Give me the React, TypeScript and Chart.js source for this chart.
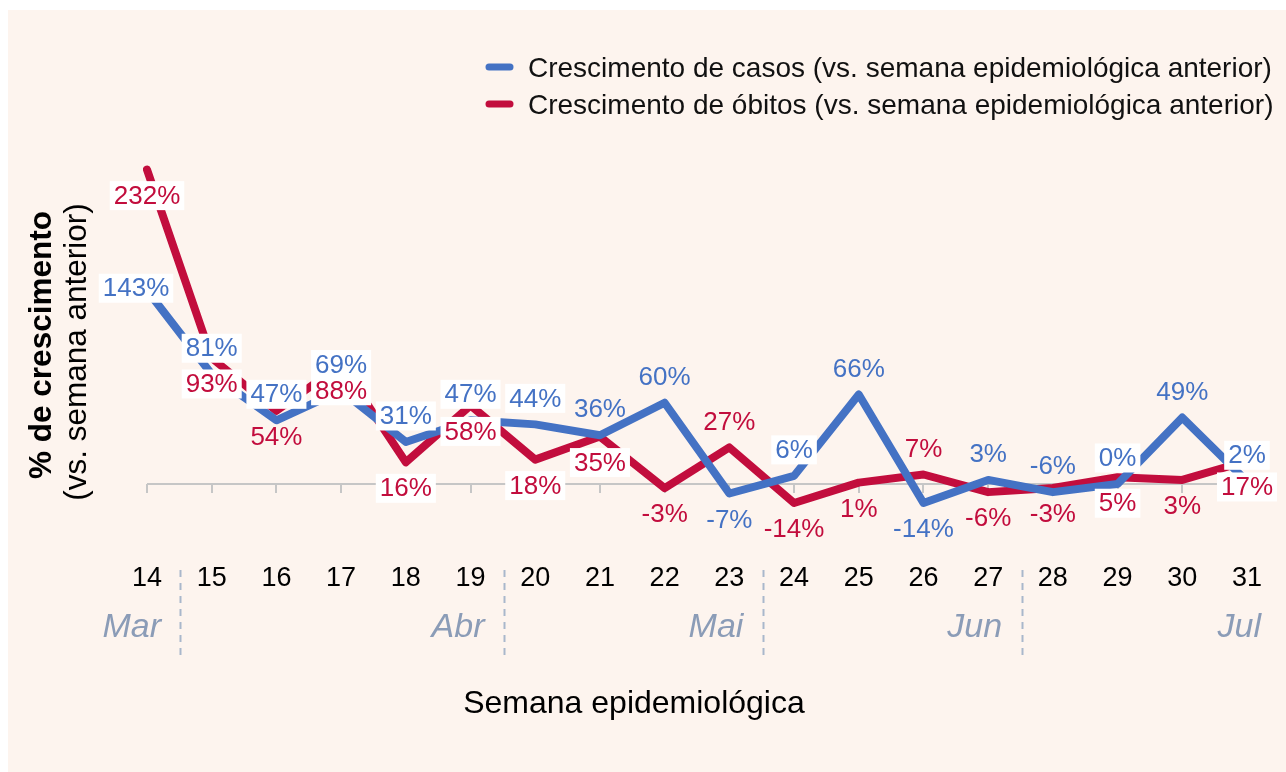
import React, { useEffect, useRef } from "react";
import { Chart, registerables } from "chart.js";

Chart.register(...registerables);

const weeks = ["14", "15", "16", "17", "18", "19", "20", "21", "22", "23", "24", "25", "26", "27", "28", "29", "30", "31"];
const casos = [143, 81, 47, 69, 31, 47, 44, 36, 60, -7, 6, 66, -14, 3, -6, 0, 49, 2];
const obitos = [232, 93, 54, 88, 16, 58, 18, 35, -3, 27, -14, 1, 7, -6, -3, 5, 3, 17];

const casosLabelPos = ["left", "above", "above", "above", "above", "above", "above", "above", "above", "below", "above", "above", "below", "above", "above", "above", "above", "above"];
const obitosLabelPos = ["below", "below", "below", "below", "below", "below", "below", "below", "below", "above", "below", "below", "above", "below", "below", "below", "below", "below"];
const casosLabelBox = [1, 1, 1, 1, 1, 1, 1, 0, 0, 0, 1, 0, 0, 0, 0, 1, 0, 1];
const obitosLabelBox = [1, 1, 0, 1, 1, 1, 1, 1, 0, 0, 0, 0, 0, 0, 0, 1, 0, 1];

const months = ["Mar", "Abr", "Mai", "Jun", "Jul"];
const monthLastWeek = ["14", "19", "23", "27", "31"];

const casosLabel = "Crescimento de casos (vs. semana epidemiológica anterior)";
const obitosLabel = "Crescimento de óbitos (vs. semana epidemiológica anterior)";
const xTitle = "Semana epidemiológica";
const yTitleMain = "% de crescimento";
const yTitleSub = "(vs. semana anterior)";

const BLUE = "#4472c4";
const RED = "#c20d3d";
const BG = "#fdf4ee";
const FONT = '"Liberation Sans", Arial, Helvetica, sans-serif';

const decorPlugin = {
  id: "decor",
  beforeDatasetsDraw(chart: any) {
    const { ctx, chartArea, scales } = chart;
    const x = scales.x;
    const y = scales.y;
    const y0 = y.getPixelForValue(0);
    ctx.save();
    ctx.strokeStyle = "#c6c6c6";
    ctx.lineWidth = 2;
    ctx.beginPath();
    ctx.moveTo(chartArea.left, y0);
    ctx.lineTo(chartArea.right + 26, y0);
    weeks.forEach((_w, i) => {
      const px = Math.round(x.getPixelForValue(i));
      ctx.moveTo(px, y0);
      ctx.lineTo(px, y0 + 9);
    });
    ctx.stroke();
    ctx.restore();
  },
  afterDatasetsDraw(chart: any) {
    const { ctx, scales } = chart;
    const x = scales.x;
    const y = scales.y;
    const series = [
      { values: casos, pos: casosLabelPos, box: casosLabelBox, color: BLUE },
      { values: obitos, pos: obitosLabelPos, box: obitosLabelBox, color: RED },
    ];
    ctx.save();
    ctx.font = `26px ${FONT}`;
    ctx.textAlign = "center";
    ctx.textBaseline = "middle";
    series.forEach((s) => {
      s.values.forEach((v, i) => {
        const px = x.getPixelForValue(i);
        const py = y.getPixelForValue(v);
        let cx = px;
        let cy = py;
        const p = s.pos[i];
        if (p === "above") cy -= 26;
        else if (p === "below") cy += 26;
        else if (p === "left") {
          cx -= 11;
          cy -= 2;
        }
        const text = `${v}%`;
        if (s.box[i]) {
          const w = ctx.measureText(text).width + 8;
          const h = 29;
          ctx.fillStyle = "#ffffff";
          ctx.fillRect(cx - w / 2, cy - h / 2, w, h);
        }
        ctx.fillStyle = s.color;
        ctx.fillText(text, cx, cy + 1);
      });
    });
    ctx.restore();
  },
  afterDraw(chart: any) {
    const { ctx, scales } = chart;
    const x = scales.x;
    ctx.save();
    // month dividers
    ctx.strokeStyle = "#a9b7cb";
    ctx.lineWidth = 2;
    ctx.setLineDash([7, 6]);
    monthLastWeek.forEach((w, k) => {
      if (k === monthLastWeek.length - 1) return;
      const i = weeks.indexOf(w);
      const px = Math.round((x.getPixelForValue(i) + x.getPixelForValue(i + 1)) / 2) + 1.5;
      ctx.beginPath();
      ctx.moveTo(px, 560);
      ctx.lineTo(px, 649);
      ctx.stroke();
    });
    ctx.setLineDash([]);
    // month labels
    ctx.font = `italic 34px ${FONT}`;
    ctx.fillStyle = "#8b9cb7";
    ctx.textAlign = "right";
    ctx.textBaseline = "middle";
    months.forEach((m, k) => {
      const i = weeks.indexOf(monthLastWeek[k]);
      ctx.fillText(m, x.getPixelForValue(i) + 14, 618);
    });
    // x title
    ctx.font = `32px ${FONT}`;
    ctx.fillStyle = "#000000";
    ctx.textAlign = "center";
    ctx.fillText(xTitle, chart.width / 2 - 13, 694);
    // y title
    ctx.save();
    ctx.translate(34, 335);
    ctx.rotate(-Math.PI / 2);
    ctx.font = `bold 31.5px ${FONT}`;
    ctx.fillText(yTitleMain, 0, 0);
    ctx.restore();
    ctx.save();
    ctx.translate(69, 342);
    ctx.rotate(-Math.PI / 2);
    ctx.font = `31.5px ${FONT}`;
    ctx.fillText(yTitleSub, 0, 0);
    ctx.restore();
    // legend
    chart.data.datasets.forEach((ds: any, k: number) => {
      const ly = 57 + k * 37;
      ctx.strokeStyle = ds.borderColor;
      ctx.lineWidth = 7;
      ctx.lineCap = "round";
      ctx.beginPath();
      ctx.moveTo(481, ly);
      ctx.lineTo(502, ly);
      ctx.stroke();
      ctx.font = `28px ${FONT}`;
      ctx.fillStyle = "#111111";
      ctx.textAlign = "left";
      ctx.fillText(ds.label, 520, ly + 2);
    });
    ctx.restore();
  },
};

export default function App() {
  const ref = useRef<HTMLCanvasElement | null>(null);
  useEffect(() => {
    if (!ref.current) return;
    const chart = new Chart(ref.current, {
      type: "line",
      data: {
        labels: weeks,
        datasets: [
          {
            label: casosLabel,
            data: casos,
            borderColor: BLUE,
            backgroundColor: BLUE,
            borderWidth: 8,
            pointRadius: 0,
            borderCapStyle: "round",
            borderJoinStyle: "round",
            tension: 0,
            order: 0,
          },
          {
            label: obitosLabel,
            data: obitos,
            borderColor: RED,
            backgroundColor: RED,
            borderWidth: 8,
            pointRadius: 0,
            borderCapStyle: "round",
            borderJoinStyle: "round",
            tension: 0,
            order: 1,
          },
        ],
      },
      options: {
        responsive: false,
        animation: false,
        layout: { padding: { left: 139, right: 30, top: 148.8, bottom: 173.8 } },
        plugins: { legend: { display: false }, tooltip: { enabled: false } },
        scales: {
          x: {
            grid: { display: false, drawTicks: false },
            border: { display: false },
            ticks: { font: { family: FONT, size: 27 }, color: "#000000", padding: 24, maxRotation: 0, autoSkip: false },
            afterFit: (scale: any) => {
              scale.height = 60;
            },
          },
          y: {
            display: false,
            min: -40,
            max: 240,
          },
        },
      },
      plugins: [decorPlugin],
    });
    return () => chart.destroy();
  }, []);
  return (
    <div style={{ position: "fixed", left: 8, top: 10, width: 1278, height: 762, background: BG }}>
      <canvas ref={ref} width={1278} height={762} style={{ display: "block" }} />
    </div>
  );
}
